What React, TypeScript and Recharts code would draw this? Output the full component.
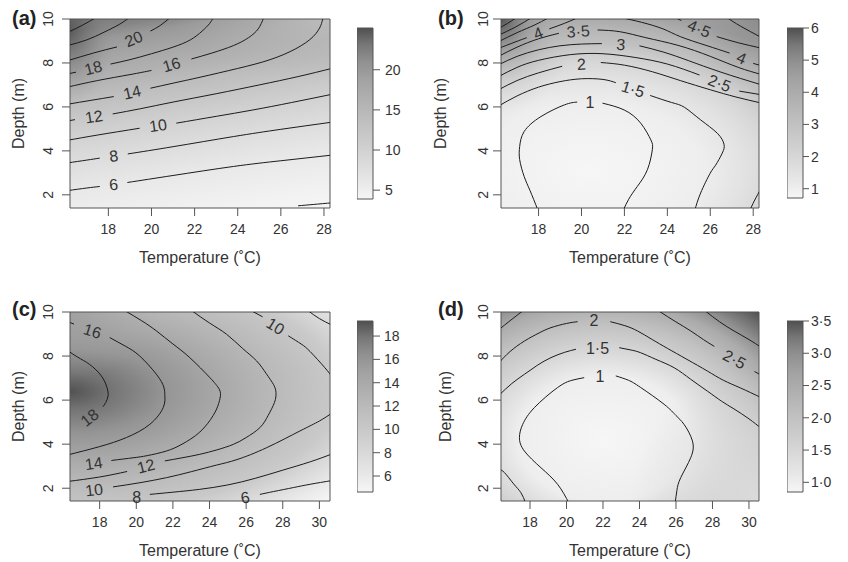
import React from "react";
import { ComposedChart, Line, XAxis, YAxis, ReferenceArea, ReferenceDot } from "recharts";

const FONT = "Liberation Sans, Arial, sans-serif";
const INK = "#333333";
const RULE = "#555555";

type Pt = [number, number];
interface Contour { level: string; pieces: Pt[][] }
interface Tag { level: string; t: number; d: number }

// ---------- shared
const depthTicks = [2, 4, 6, 8, 10];

// ---------- panel (a)
const aTemp: Pt = [16.22, 28.28];
const aDepth: Pt = [1.4, 10];
const aTempTicks = [18, 20, 22, 24, 26, 28];
const aKey: Pt = [3.9, 25.2];
const aKeyTicks = [5, 10, 15, 20];
const aLines: Contour[] = [
  { level: "24", pieces: [[[16.1, 9.38], [16.8, 9.72], [17.4, 10.05]]] },
  { level: "22", pieces: [[[16.1, 8.79], [17.0, 9.05], [17.8, 9.4], [18.5, 9.75], [18.95, 10.05]]] },
  { level: "20", pieces: [[[16.1, 8.1], [17.3, 8.45], [18.4, 8.73]], [[19.95, 9.45], [20.4, 9.7], [20.85, 10.05]]] },
  { level: "18", pieces: [[[16.1, 7.5], [16.5, 7.58]], [[18.1, 7.95], [19.0, 8.15], [20.0, 8.42], [21.0, 8.72], [21.8, 9.05], [22.35, 9.45], [22.7, 9.8], [22.85, 10.05]]] },
  { level: "16", pieces: [[[16.1, 6.9], [17.5, 7.2], [19.0, 7.47], [20.0, 7.66]], [[21.85, 8.18], [22.8, 8.45], [23.8, 8.79], [24.5, 9.15], [24.95, 9.55], [25.2, 10.05]]] },
  { level: "14", pieces: [[[16.1, 6.12], [17.2, 6.3], [18.25, 6.47]], [[19.95, 6.85], [21.0, 7.08], [22.25, 7.35], [24.0, 7.75], [25.5, 8.15], [26.7, 8.65], [27.5, 9.2], [27.85, 9.7], [27.95, 10.05]]] },
  { level: "12", pieces: [[[16.1, 5.36], [16.45, 5.42]], [[18.2, 5.68], [19.5, 5.92], [21.0, 6.22], [23.0, 6.6], [25.0, 7.0], [26.8, 7.38], [28.4, 7.76]]] },
  { level: "10", pieces: [[[16.1, 4.48], [17.5, 4.72], [19.45, 5.03]], [[21.15, 5.26], [23.0, 5.57], [24.7, 5.86], [26.5, 6.2], [28.4, 6.58]]] },
  { level: "8", pieces: [[[16.1, 3.45], [17.0, 3.58], [17.6, 3.67]], [[18.9, 3.86], [21.0, 4.19], [23.8, 4.65], [26.0, 4.98], [28.4, 5.31]]] },
  { level: "6", pieces: [[[16.1, 2.19], [17.0, 2.31], [17.6, 2.38]], [[18.88, 2.56], [21.0, 2.88], [23.8, 3.29], [26.0, 3.55], [28.4, 3.81]]] },
  { level: "4", pieces: [[[26.8, 1.5], [27.5, 1.56], [28.4, 1.64]]] },
];
const aTags: Tag[] = [
  { level: "20", t: 19.18, d: 9.09 }, { level: "18", t: 17.3, d: 7.77 },
  { level: "16", t: 20.93, d: 7.92 }, { level: "14", t: 19.1, d: 6.66 },
  { level: "12", t: 17.33, d: 5.55 }, { level: "10", t: 20.3, d: 5.15 },
  { level: "8", t: 18.25, d: 3.77 }, { level: "6", t: 18.24, d: 2.47 },
];
const aTilt = [-22, -14, -16, -13, -9, -8, -7, -6];

// ---------- panel (b)
const bTemp: Pt = [16.25, 28.27];
const bDepth: Pt = [1.4, 10];
const bTempTicks = [18, 20, 22, 24, 26, 28];
const bKey: Pt = [0.71, 6.0];
const bKeyTicks = [1, 2, 3, 4, 5, 6];
const bLines: Contour[] = [
  { level: "5·5", pieces: [[[16.1, 9.54], [16.55, 9.8], [16.95, 10.05]]] },
  { level: "5", pieces: [[[16.1, 9.25], [16.9, 9.62], [17.65, 10.05]], [[26.8, 10.05], [27.4, 9.68], [28.4, 9.15]]] },
  { level: "4·5", pieces: [[[16.1, 8.95], [17.0, 9.38], [17.8, 9.72], [18.45, 10.05]], [[24.4, 10.05], [24.65, 9.93]], [[26.3, 9.2], [27.3, 8.92], [28.4, 8.67]]] },
  { level: "4", pieces: [[[16.1, 8.65], [16.9, 8.95], [17.45, 9.15]], [[18.5, 9.55], [19.2, 9.8], [19.8, 10.05]], [[21.9, 10.05], [22.8, 9.85], [23.8, 9.55], [24.6, 9.2], [25.8, 8.8], [26.9, 8.45]], [[28.0, 7.98], [28.4, 7.87]]] },
  { level: "3·5", pieces: [[[16.1, 8.28], [17.0, 8.72], [18.0, 9.1], [18.95, 9.35]], [[20.75, 9.5], [21.8, 9.42], [23.0, 9.15], [24.5, 8.8], [26.0, 8.3], [27.3, 7.8], [28.4, 7.47]]] },
  { level: "3", pieces: [[[16.1, 7.9], [17.0, 8.3], [18.0, 8.6], [19.0, 8.78], [20.0, 8.86], [20.95, 8.88]], [[22.7, 8.78], [23.8, 8.5], [25.0, 8.1], [26.5, 7.58], [28.4, 7.0]]] },
  { level: "2·5", pieces: [[[16.1, 7.36], [17.0, 7.8], [18.0, 8.12], [19.5, 8.38], [21.0, 8.42], [22.5, 8.25], [24.0, 7.95], [25.5, 7.45]], [[27.35, 6.72], [28.4, 6.55]]] },
  { level: "2", pieces: [[[16.1, 6.76], [17.0, 7.2], [18.0, 7.55], [19.1, 7.85]], [[20.9, 8.02], [22.0, 7.9], [23.3, 7.6], [24.6, 7.2], [26.0, 6.78], [27.2, 6.45], [28.4, 6.17]], [[27.85, 1.3], [28.05, 1.72], [28.4, 2.35]]] },
  { level: "1·5", pieces: [[[16.1, 6.02], [17.0, 6.5], [18.0, 6.9], [19.0, 7.15], [20.0, 7.28], [21.0, 7.25], [21.6, 7.1]], [[23.2, 6.52], [24.2, 6.2], [24.8, 5.98], [25.55, 5.41], [26.33, 4.8], [26.64, 4.3], [26.56, 3.9], [26.25, 3.35], [26.0, 2.99], [25.55, 2.08], [25.28, 1.3]]] },
  { level: "1", pieces: [[[17.97, 1.3], [17.6, 2.2], [17.33, 2.83], [17.12, 3.6], [17.12, 4.2], [17.33, 4.88], [18.11, 5.56], [19.2, 6.09], [19.8, 6.22]], [[20.98, 6.17], [21.99, 5.86], [22.76, 5.26], [23.23, 4.5], [23.3, 4.05], [23.07, 3.14], [22.6, 2.38], [22.2, 1.8], [21.95, 1.3]]] },
];
const bTags: Tag[] = [
  { level: "4", t: 17.98, d: 9.35 }, { level: "3·5", t: 19.85, d: 9.43 },
  { level: "3", t: 21.83, d: 8.84 }, { level: "2", t: 20.0, d: 7.94 },
  { level: "1·5", t: 22.4, d: 6.81 }, { level: "1", t: 20.39, d: 6.2 },
  { level: "4·5", t: 25.48, d: 9.56 }, { level: "4", t: 27.45, d: 8.22 },
  { level: "2·5", t: 26.43, d: 7.08 },
];
const bTilt = [-21, -4, 4, -3, 17, 0, 23, 23, 21];

// ---------- panel (c)
const cTemp: Pt = [16.38, 30.58];
const cDepth: Pt = [1.42, 10];
const cTempTicks = [18, 20, 22, 24, 26, 28, 30];
const cKey: Pt = [4.63, 19.29];
const cKeyTicks = [6, 8, 10, 12, 14, 16, 18];
const cLines: Contour[] = [
  { level: "18", pieces: [[[16.2, 8.28], [16.8, 7.95], [17.45, 7.62], [18.09, 7.1], [18.4, 6.57], [18.46, 6.19], [18.33, 5.89], [18.18, 5.7]]] },
  { level: "16", pieces: [[[16.2, 9.58], [16.6, 9.45]], [[18.55, 8.84], [19.4, 8.45], [20.19, 8.0], [21.1, 7.17], [21.5, 6.6], [21.56, 6.2], [21.47, 5.66], [20.74, 4.9], [19.46, 4.3], [18.0, 3.89], [16.2, 3.5]]] },
  { level: "14", pieces: [[[19.4, 10.05], [20.3, 9.6], [21.1, 9.14], [22.0, 8.55], [22.92, 7.93], [24.02, 7.02], [24.45, 6.6], [24.6, 6.3], [24.5, 5.85], [24.2, 5.3], [23.47, 4.55], [22.5, 4.0], [21.65, 3.69], [20.6, 3.48], [19.82, 3.38], [18.64, 3.26]]] },
  { level: "12", pieces: [[[23.05, 10.05], [24.0, 9.5], [24.93, 8.99], [25.8, 8.35], [26.57, 7.78], [27.1, 7.2], [27.5, 6.7], [27.63, 6.34], [27.55, 5.9], [27.2, 5.3], [26.75, 4.75], [26.0, 4.3], [25.3, 3.99], [24.4, 3.74], [23.47, 3.54], [22.5, 3.38], [21.56, 3.24]], [[19.5, 2.76], [18.0, 2.51], [16.2, 2.3]]] },
  { level: "10", pieces: [[[26.3, 10.05], [26.9, 9.78]], [[28.3, 8.92], [29.0, 8.55], [29.5, 8.2], [30.3, 7.47], [30.7, 7.05]], [[30.7, 5.42], [30.0, 5.05], [28.94, 4.6], [27.12, 3.84], [25.5, 3.3], [24.38, 3.05], [23.0, 2.75], [21.65, 2.48], [20.2, 2.25], [18.73, 2.06]]] },
  { level: "8", pieces: [[[29.4, 10.05], [30.0, 9.7], [30.7, 9.4]], [[30.7, 3.56], [29.5, 3.2], [28.0, 2.82], [26.5, 2.45], [25.0, 2.15], [23.47, 1.95], [22.0, 1.82], [20.74, 1.72]]] },
  { level: "6", pieces: [[[30.7, 2.35], [29.5, 2.18], [28.58, 2.03], [27.5, 1.85], [26.75, 1.72]]] },
];
const cTags: Tag[] = [
  { level: "18", t: 17.45, d: 5.2 }, { level: "16", t: 17.6, d: 9.13 },
  { level: "14", t: 17.68, d: 3.12 }, { level: "12", t: 20.53, d: 3.0 },
  { level: "10", t: 27.6, d: 9.35 }, { level: "10", t: 17.7, d: 1.92 },
  { level: "8", t: 20.02, d: 1.6 }, { level: "6", t: 25.95, d: 1.58 },
];
const cTilt = [-38, 17, -8, -14, 32, -7, 0, -10];

// ---------- panel (d)
const dTemp: Pt = [16.41, 30.55];
const dDepth: Pt = [1.42, 10];
const dTempTicks = [18, 20, 22, 24, 26, 28, 30];
const dKey: Pt = [0.85, 3.5];
const dKeyTicks = [1.0, 1.5, 2.0, 2.5, 3.0, 3.5];
const dLines: Contour[] = [
  { level: "3", pieces: [[[27.6, 10.05], [28.4, 9.55], [29.18, 9.14], [30.0, 8.75], [30.7, 8.38]]] },
  { level: "2·5", pieces: [[[16.3, 9.2], [16.9, 9.6], [17.6, 10.05]], [[25.05, 10.05], [26.0, 9.55], [26.81, 9.14], [27.5, 8.75], [28.1, 8.44]], [[30.3, 7.3], [30.7, 7.12]]] },
  { level: "2", pieces: [[[16.3, 7.7], [16.9, 8.2], [17.69, 8.68], [18.5, 9.05], [19.15, 9.29], [20.0, 9.48], [20.61, 9.56]], [[22.4, 9.56], [23.2, 9.38], [23.89, 9.14], [24.7, 8.75], [25.53, 8.35], [26.6, 7.85], [27.72, 7.32], [28.6, 6.9], [29.54, 6.55], [30.7, 6.1]]] },
  { level: "1·5", pieces: [[[16.3, 6.22], [17.0, 6.75], [17.69, 7.17], [18.4, 7.58], [19.15, 7.93], [19.9, 8.17], [20.52, 8.31]], [[22.89, 8.38], [23.5, 8.28], [24.07, 8.15], [24.9, 7.85], [25.9, 7.47], [26.8, 6.95], [27.72, 6.41], [28.5, 5.95], [29.18, 5.6], [30.0, 5.15], [30.7, 4.7]], [[16.3, 2.85], [16.6, 2.71], [17.1, 2.2], [17.5, 1.8], [17.75, 1.35]]] },
  { level: "1", pieces: [[[20.15, 1.3], [19.51, 2.18], [18.6, 2.93], [17.69, 3.69], [17.42, 4.3], [17.6, 4.9], [18.24, 5.66], [19.51, 6.57], [20.3, 6.9], [20.97, 7.02]], [[22.7, 7.1], [23.4, 6.9], [24.07, 6.57], [25.35, 5.81], [26.0, 5.3], [26.44, 4.9], [26.9, 4.15], [26.81, 3.39], [26.26, 2.48], [26.05, 1.9], [25.95, 1.3]]] },
];
const dTags: Tag[] = [
  { level: "2", t: 21.5, d: 9.6 }, { level: "1·5", t: 21.7, d: 8.35 },
  { level: "1", t: 21.83, d: 7.06 }, { level: "2·5", t: 29.2, d: 7.85 },
];
const dTilt = [0, 0, 0, 28];

// ---------- grey ramp (top of key = high value)
const RAMP_AT = [0, 0.05, 0.1, 0.2, 0.3, 0.4, 0.5, 0.6, 0.7, 0.8, 0.9, 1];
const RAMP_GREY = [80, 100, 120, 145, 162, 174, 186, 197, 208, 220, 232, 246];

function grey(f: number): string {
  const x = Math.min(1, Math.max(0, f));
  let i = 0;
  while (i < RAMP_AT.length - 2 && x > RAMP_AT[i + 1]) i++;
  const k = (x - RAMP_AT[i]) / (RAMP_AT[i + 1] - RAMP_AT[i]);
  const g = Math.round(RAMP_GREY[i] + k * (RAMP_GREY[i + 1] - RAMP_GREY[i]));
  return `rgb(${g},${g},${g})`;
}
const shadeOf = (v: number, r: Pt) => grey((r[1] - v) / (r[1] - r[0]));

// background shading layers: stops are [offset, value, opacity]
interface Layer { id: string; type: "linear" | "radial"; geo: Record<string, any>; stops: number[][] }

const aShade: Layer[] = [
  { id: "a0", type: "linear", geo: { x1: 0, y1: 0, x2: 0.256, y2: 1.164 },
    stops: [[0, 23], [0.06, 22], [0.107, 20], [0.194, 18], [0.277, 16], [0.351, 14], [0.432, 12], [0.52, 10], [0.623, 8], [0.744, 6], [0.9, 4.6], [1, 3.9]] },
  { id: "a1", type: "radial", geo: { cx: 0, cy: 0.06, r: 0.4, gradientTransform: "translate(0 0.06) scale(0.45 1) translate(0 -0.06)" },
    stops: [[0, 25.2, 0.8], [0.4, 24, 0.45], [1, 20, 0]] },
  { id: "a2", type: "radial", geo: { cx: 1, cy: 0, r: 0.6, gradientTransform: "translate(1 0) scale(1 0.55) translate(-1 0)" },
    stops: [[0, 13.5, 0.9], [0.45, 14.5, 0.45], [1, 16, 0]] },
];
const bShade: Layer[] = [
  { id: "b0", type: "radial", geo: { cx: 0.34, cy: 0.8, r: 0.85, gradientTransform: "translate(0.34 0.8) scale(1.25 1) translate(-0.34 -0.8)" },
    stops: [[0, 0.72], [0.24, 0.85], [0.42, 1], [0.57, 1.5], [0.67, 2], [0.74, 2.5], [0.79, 3], [0.87, 3.5], [0.94, 4], [1, 4.5]] },
  { id: "b1", type: "radial", geo: { cx: 0, cy: 0, r: 0.5, gradientTransform: "scale(0.6 1)" },
    stops: [[0, 6, 0.95], [0.35, 5, 0.55], [0.7, 4, 0.2], [1, 3.5, 0]] },
  { id: "b2", type: "radial", geo: { cx: 1, cy: 0, r: 0.3, gradientTransform: "translate(1 0) scale(1 1.2) translate(-1 0)" },
    stops: [[0, 5.3, 0.6], [0.6, 4.9, 0.25], [1, 4.5, 0]] },
];
const cShade: Layer[] = [
  { id: "c0", type: "radial", geo: { cx: 0, cy: 0.42, r: 1.35, gradientTransform: "translate(0 0.42) scale(1 0.62) translate(0 -0.42)" },
    stops: [[0, 19.2], [0.11, 18], [0.27, 16], [0.43, 14], [0.59, 12], [0.76, 10], [0.84, 8], [0.93, 6], [1, 4.7]] },
  { id: "c1", type: "radial", geo: { cx: 0, cy: 0, r: 0.35 },
    stops: [[0, 16, 0.6], [1, 14, 0]] },
];
const dShade: Layer[] = [
  { id: "d0", type: "radial", geo: { cx: 0.4, cy: 0.67, r: 0.9 },
    stops: [[0, 0.85], [0.37, 1], [0.52, 1.5], [0.67, 2], [0.79, 2.5], [0.87, 3], [1, 3.5]] },
  { id: "d1", type: "radial", geo: { cx: 1, cy: 1, r: 0.5, gradientTransform: "translate(1 1) scale(1 1.4) translate(-1 -1)" },
    stops: [[0, 1.3, 0.9], [0.5, 1.35, 0.55], [1, 1.5, 0]] },
];

function Gradient({ layer, range }: { layer: Layer; range: Pt }) {
  const stops = layer.stops.map(([o, v, a = 1], i) => (
    <stop key={i} offset={o} stopColor={shadeOf(v, range)} stopOpacity={a} />
  ));
  return layer.type === "linear"
    ? <linearGradient id={layer.id} {...layer.geo}>{stops}</linearGradient>
    : <radialGradient id={layer.id} {...layer.geo}>{stops}</radialGradient>;
}

const depthTick = (p: any) => (
  <text x={p.x} y={p.y} transform={`rotate(-90 ${p.x} ${p.y})`} textAnchor="middle"
    fontSize={14} fill={INK} fontFamily={FONT}>{p.payload.value}</text>
);

interface PanelProps {
  box: number[]; temp: Pt; depth: Pt; tempTicks: number[];
  lines: Contour[]; tags: Tag[]; tilt: number[]; layers: Layer[]; gap: number;
}

function Panel({ box, temp, depth, tempTicks, lines, tags, tilt, layers, gap }: PanelProps) {
  const [px, py, pw, ph] = box;
  return (
    <div style={{ position: "absolute", left: px - 70, top: py - 19 }}>
      <ComposedChart width={70 + pw + 20} height={19 + ph + 60} margin={{ top: 19, right: 20, bottom: 30, left: 0 }}>
        <XAxis type="number" dataKey="t" domain={temp} allowDataOverflow ticks={tempTicks} interval={0}
          height={30} tickSize={8} tickMargin={8} axisLine={false} tickLine={{ stroke: RULE }}
          tick={{ fontSize: 14, fill: INK, fontFamily: FONT }} />
        <YAxis type="number" dataKey="d" domain={depth} allowDataOverflow ticks={depthTicks} interval={0}
          width={70} tickSize={8} tickMargin={gap} axisLine={false} tickLine={{ stroke: RULE }} tick={depthTick} />
        {layers.map((l) => (
          <ReferenceArea key={l.id} x1={temp[0]} x2={temp[1]} y1={depth[0]} y2={depth[1]}
            fill={`url(#${l.id})`} fillOpacity={1} stroke="none" ifOverflow="visible" />
        ))}
        {lines.flatMap((c, i) => c.pieces.map((piece, j) => (
          <Line key={`${i}-${j}`} data={piece.map(([t, d]) => ({ t, d }))} dataKey="d" type="natural"
            dot={false} activeDot={false} stroke="#1c1c1c" strokeWidth={1} isAnimationActive={false} />
        )))}
        {tags.map((g, i) => (
          <ReferenceDot key={`tag${i}`} x={g.t} y={g.d} r={0} ifOverflow="visible"
            shape={(p: any) => (
              <text x={p.cx} y={p.cy} transform={`rotate(${tilt[i]} ${p.cx} ${p.cy})`} textAnchor="middle"
                dominantBaseline="central" fontSize={16} fill={INK} fontFamily={FONT}>{g.level}</text>
            )} />
        ))}
        <ReferenceArea x1={temp[0]} x2={temp[1]} y1={depth[0]} y2={depth[1]} fill="none" stroke={RULE} ifOverflow="visible" />
      </ComposedChart>
    </div>
  );
}

function Key({ box, range, ticks, size, gap, fmt }: { box: number[]; range: Pt; ticks: number[]; size: number; gap: number; fmt?: (v: number) => string }) {
  const [kx, ky, kw, kh] = box;
  return (
    <div style={{ position: "absolute", left: kx, top: ky - 12 }}>
      <ComposedChart width={kw + 50} height={kh + 24} margin={{ top: 12, right: 0, bottom: 12, left: 0 }} data={[{ k: 0 }, { k: 1 }]}>
        <XAxis type="number" dataKey="k" domain={[0, 1]} hide />
        <YAxis type="number" orientation="right" domain={range} allowDataOverflow ticks={ticks} interval={0}
          width={50} tickSize={size} tickMargin={gap} axisLine={false} tickLine={{ stroke: RULE }}
          tick={{ fontSize: 14, fill: INK, fontFamily: FONT }} tickFormatter={fmt} />
        <ReferenceArea x1={0} x2={1} y1={range[0]} y2={range[1]} fill="url(#ramp)" fillOpacity={1} stroke={RULE} ifOverflow="visible" />
      </ComposedChart>
    </div>
  );
}

const dot = (v: number) => v.toFixed(1).replace(".", "·");

export default function App() {
  const title = { fontSize: 16, fill: INK, fontFamily: FONT } as const;
  const tag = { fontSize: 20, fontWeight: 700, fill: "#222", fontFamily: FONT } as const;
  return (
    <div style={{ position: "absolute", left: 0, top: 0, width: 848, height: 562, background: "#fff" }}>
      <svg width={848} height={562} style={{ position: "absolute", left: 0, top: 0 }}>
        <defs>
          <linearGradient id="ramp" x1={0} y1={0} x2={0} y2={1}>
            {RAMP_AT.map((o, i) => <stop key={i} offset={o} stopColor={grey(o)} />)}
          </linearGradient>
          {aShade.map((l) => <Gradient key={l.id} layer={l} range={aKey} />)}
          {bShade.map((l) => <Gradient key={l.id} layer={l} range={bKey} />)}
          {cShade.map((l) => <Gradient key={l.id} layer={l} range={cKey} />)}
          {dShade.map((l) => <Gradient key={l.id} layer={l} range={dKey} />)}
        </defs>
        <text x={12} y={25} {...tag}>(a)</text>
        <text x={438} y={25} {...tag}>(b)</text>
        <text x={12} y={316} {...tag}>(c)</text>
        <text x={438} y={316} {...tag}>(d)</text>
        <text x={200} y={262.5} textAnchor="middle" {...title}>Temperature (˚C)</text>
        <text x={630} y={262.5} textAnchor="middle" {...title}>Temperature (˚C)</text>
        <text x={200} y={555.5} textAnchor="middle" {...title}>Temperature (˚C)</text>
        <text x={630} y={555.5} textAnchor="middle" {...title}>Temperature (˚C)</text>
        <text x={24} y={113.5} textAnchor="middle" transform="rotate(-90 24 113.5)" {...title}>Depth (m)</text>
        <text x={446} y={113.5} textAnchor="middle" transform="rotate(-90 446 113.5)" {...title}>Depth (m)</text>
        <text x={24} y={406.5} textAnchor="middle" transform="rotate(-90 24 406.5)" {...title}>Depth (m)</text>
        <text x={451} y={406.5} textAnchor="middle" transform="rotate(-90 451 406.5)" {...title}>Depth (m)</text>
      </svg>
      <Panel box={[70, 19, 260, 189]} temp={aTemp} depth={aDepth} tempTicks={aTempTicks} lines={aLines} tags={aTags} tilt={aTilt} layers={aShade} gap={9} />
      <Panel box={[501, 19, 258, 189]} temp={bTemp} depth={bDepth} tempTicks={bTempTicks} lines={bLines} tags={bTags} tilt={bTilt} layers={bShade} gap={5} />
      <Panel box={[70, 312, 260, 189]} temp={cTemp} depth={cDepth} tempTicks={cTempTicks} lines={cLines} tags={cTags} tilt={cTilt} layers={cShade} gap={9} />
      <Panel box={[501, 312, 258, 189]} temp={dTemp} depth={dDepth} tempTicks={dTempTicks} lines={dLines} tags={dTags} tilt={dTilt} layers={dShade} gap={5} />
      <Key box={[357, 28, 16, 171]} range={aKey} ticks={aKeyTicks} size={7} gap={5} />
      <Key box={[787, 28, 16, 170]} range={bKey} ticks={bKeyTicks} size={6} gap={2} />
      <Key box={[357, 321, 16, 171]} range={cKey} ticks={cKeyTicks} size={7} gap={4} />
      <Key box={[787, 321, 16, 171]} range={dKey} ticks={dKeyTicks} size={6} gap={2} fmt={dot} />
    </div>
  );
}
